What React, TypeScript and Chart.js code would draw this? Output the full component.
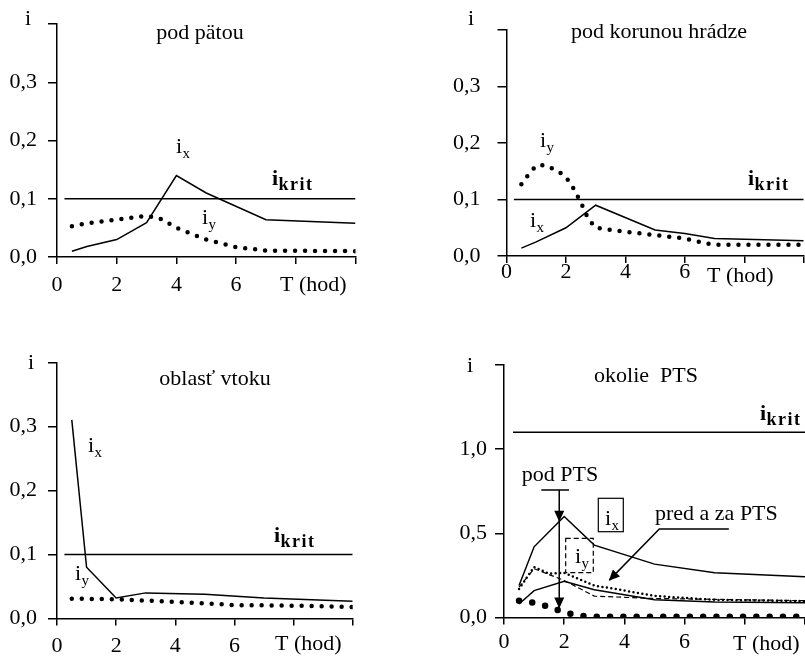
import React, { useEffect, useRef } from 'react';
import { Chart, registerables } from 'chart.js';
Chart.register(...registerables);

const FONT = '"Liberation Serif", "Times New Roman", serif';

// ---------- Panel 1: pod pätou ----------
const p1IxT = [0.5, 1, 2, 3, 4, 5, 7, 10];
const p1IxV = [0.01, 0.018, 0.03, 0.059, 0.14, 0.11, 0.064, 0.058];
const p1IyT = [0.5, 1, 2, 3, 3.5, 4, 5, 6, 7, 10];
const p1IyV = [0.053, 0.058, 0.064, 0.071, 0.065, 0.05, 0.03, 0.017, 0.011, 0.01];

// ---------- Panel 2: pod korunou hrádze ----------
const p2IxT = [0.5, 1, 2, 3, 5, 6, 7, 10];
const p2IxV = [0.014, 0.025, 0.05, 0.09, 0.046, 0.04, 0.031, 0.027];
const p2IyT = [0.5, 0.75, 1, 1.25, 1.5, 1.75, 2, 2.25, 2.5, 2.75, 3, 4, 5, 6, 6.75, 7, 10];
const p2IyV = [0.127, 0.145, 0.16, 0.161, 0.156, 0.15, 0.14, 0.12, 0.095, 0.066, 0.05, 0.043, 0.037, 0.031, 0.022, 0.02, 0.02];

// ---------- Panel 3: oblasť vtoku ----------
const p3IxT = [0.5, 1, 2, 3, 5, 7, 10];
const p3IxV = [0.31, 0.08, 0.032, 0.04, 0.038, 0.032, 0.027];
const p3IyT = [0.5, 2, 4, 6, 8, 10];
const p3IyV = [0.031, 0.03, 0.026, 0.021, 0.02, 0.018];

// ---------- Panel 4: okolie PTS ----------
const p4IxPodT = [0.5, 1, 2, 3, 5, 7, 10];
const p4IxPodV = [0.19, 0.42, 0.6, 0.43, 0.317, 0.266, 0.242];
const p4IxPredT = [0.5, 1, 2, 3, 5, 7, 10];
const p4IxPredV = [0.08, 0.16, 0.215, 0.165, 0.105, 0.092, 0.087];
const p4IyPredT = [0.5, 1, 1.5, 2, 3, 4, 5, 7, 10];
const p4IyPredV = [0.17, 0.3, 0.26, 0.265, 0.19, 0.16, 0.128, 0.105, 0.097];
const p4IyDashT = [0.5, 1, 2, 3, 5, 10];
const p4IyDashV = [0.18, 0.29, 0.22, 0.127, 0.113, 0.1];
const p4IyPodT = [0.5, 1, 1.5, 2, 2.5, 3, 10];
const p4IyPodV = [0.1, 0.088, 0.063, 0.03, 0.01, 0.005, 0.005];

// critical values
const critLow = 0.1;
const critPTS = 1.1;
const critStart = 0.25;
const critEnd = 10;

// axis ticks
const xShownTicks = [0, 2, 4, 6];

const pts = (t: number[], v: number[]) => t.map((x, i) => ({ x, y: v[i] }));

type Txt = { t: string; sub?: string; x: number; y: number; bold?: boolean; align?: 'left' | 'center' };

function drawText(ctx: CanvasRenderingContext2D, o: Txt) {
  const w = o.bold ? 'bold ' : '';
  ctx.save();
  ctx.fillStyle = '#000';
  ctx.textBaseline = 'alphabetic';
  ctx.font = `${w}22px ${FONT}`;
  if (o.align === 'center' && !o.sub) {
    ctx.textAlign = 'center';
    ctx.fillText(o.t, o.x, o.y);
  } else {
    ctx.textAlign = 'left';
    ctx.fillText(o.t, o.x, o.y);
    if (o.sub) {
      const mw = ctx.measureText(o.t).width;
      ctx.font = `${w}${o.bold ? 18 : 15}px ${FONT}`;
      if (o.bold) (ctx as any).letterSpacing = '1.5px';
      ctx.fillText(o.sub, o.x + mw + 0.5, o.y + 5);
    }
  }
  ctx.restore();
}

function arrowHead(ctx: CanvasRenderingContext2D, fx: number, fy: number, tx: number, ty: number) {
  const ang = Math.atan2(ty - fy, tx - fx);
  const len = 11, hw = 5;
  ctx.beginPath();
  ctx.moveTo(tx, ty);
  ctx.lineTo(tx - len * Math.cos(ang) + hw * Math.sin(ang), ty - len * Math.sin(ang) - hw * Math.cos(ang));
  ctx.lineTo(tx - len * Math.cos(ang) - hw * Math.sin(ang), ty - len * Math.sin(ang) + hw * Math.cos(ang));
  ctx.closePath();
  ctx.fill();
}

type PanelCfg = {
  left: number; top: number; w: number; h: number;
  yW: number; xH: number; padTop: number; padRight: number;
  yMax: number; yStep: number; yPad: number; xPad: number;
  datasets: any[];
  texts: Txt[];
  extra?: (chart: any) => void;
};

const solid = (data: any[]) => ({ data, showLine: true, borderColor: '#000', borderWidth: 1.5, pointRadius: 0, fill: false, tension: 0 });
const bigDots = (data: any[], width = 4.5, gap = 10) => ({
  data, showLine: true, borderColor: '#000', borderWidth: width, borderDash: [0, gap], borderCapStyle: 'round', pointRadius: 0, fill: false, tension: 0,
});
const dashed = (data: any[]) => ({ data, showLine: true, borderColor: '#000', borderWidth: 1.2, borderDash: [5, 3], pointRadius: 0, fill: false, tension: 0 });

const fmt = (v: number, max: number) => (Math.abs(v - max) < 1e-9 ? '' : v.toFixed(1).replace('.', ','));

function Panel({ cfg }: { cfg: PanelCfg }) {
  const ref = useRef<HTMLCanvasElement>(null);
  useEffect(() => {
    if (!ref.current) return;
    const textPlugin = {
      id: 'texts',
      afterDraw(chart: any) {
        const ctx = chart.ctx;
        cfg.texts.forEach((t) => drawText(ctx, t));
        if (cfg.extra) cfg.extra(chart);
      },
    };
    const chart = new Chart(ref.current, {
      type: 'scatter',
      data: { datasets: cfg.datasets },
      options: {
        responsive: false,
        animation: false,
        devicePixelRatio: 1,
        layout: { padding: { top: cfg.padTop, right: cfg.padRight, left: 0, bottom: 0 } },
        plugins: { legend: { display: false }, tooltip: { enabled: false }, title: { display: false } },
        scales: {
          x: {
            type: 'linear', min: 0, max: 10,
            afterFit: (s: any) => { s.height = cfg.xH; },
            ticks: {
              stepSize: 2, autoSkip: false, maxRotation: 0, padding: cfg.xPad, color: '#000',
              font: { family: FONT, size: 22 },
              callback: (v: any) => (xShownTicks.includes(Number(v)) ? String(v) : ''),
            },
            grid: { display: true, drawOnChartArea: false, drawTicks: true, tickLength: 7, color: '#000', lineWidth: 1.5 },
            border: { display: true, color: '#000', width: 1.5 },
          },
          y: {
            type: 'linear', min: 0, max: cfg.yMax,
            afterFit: (s: any) => { s.width = cfg.yW; },
            ticks: {
              stepSize: cfg.yStep, autoSkip: false, padding: cfg.yPad, color: '#000',
              font: { family: FONT, size: 22 },
              callback: (v: any) => fmt(Number(v), cfg.yMax),
            },
            grid: { display: true, drawOnChartArea: false, drawTicks: true, tickLength: 9, color: '#000', lineWidth: 1.5 },
            border: { display: true, color: '#000', width: 1.5 },
          },
        },
      },
      plugins: [textPlugin],
    } as any);
    return () => chart.destroy();
  }, []);
  return (
    <canvas
      ref={ref}
      width={cfg.w}
      height={cfg.h}
      style={{ position: 'absolute', left: cfg.left, top: cfg.top, width: cfg.w, height: cfg.h }}
    />
  );
}

const panels: PanelCfg[] = [
  {
    left: 0, top: 0, w: 400, h: 310, yW: 57, xH: 53, padTop: 17, padRight: 44.5,
    yMax: 0.4, yStep: 0.1, yPad: 11, xPad: 8,
    datasets: [
      solid(pts(p1IxT, p1IxV)),
      bigDots(pts(p1IyT, p1IyV)),
      solid([{ x: critStart, y: critLow }, { x: critEnd, y: critLow }]),
    ],
    texts: [
      { t: 'i', x: 25, y: 25 },
      { t: 'pod pätou', x: 200, y: 39, align: 'center' },
      { t: 'i', sub: 'x', x: 176, y: 153 },
      { t: 'i', sub: 'y', x: 202, y: 224 },
      { t: 'i', sub: 'krit', x: 272, y: 185, bold: true },
      { t: 'T (hod)', x: 280, y: 291 },
    ],
  },
  {
    left: 400, top: 0, w: 405, h: 310, yW: 106.5, xH: 54, padTop: 20, padRight: 1.3,
    yMax: 0.4, yStep: 0.1, yPad: 17, xPad: -4,
    datasets: [
      solid(pts(p2IxT, p2IxV)),
      bigDots(pts(p2IyT, p2IyV)),
      solid([{ x: critStart, y: critLow }, { x: critEnd, y: critLow }]),
    ],
    texts: [
      { t: 'i', x: 68, y: 25 },
      { t: 'pod korunou hrádze', x: 259, y: 38, align: 'center' },
      { t: 'i', sub: 'y', x: 140, y: 147 },
      { t: 'i', sub: 'x', x: 130, y: 227 },
      { t: 'i', sub: 'krit', x: 348, y: 185, bold: true },
      { t: 'T (hod)', x: 307, y: 282 },
    ],
  },
  {
    left: 0, top: 320, w: 400, h: 340, yW: 57, xH: 41.5, padTop: 42.3, padRight: 47.3,
    yMax: 0.4, yStep: 0.1, yPad: 11, xPad: 8,
    datasets: [
      solid(pts(p3IxT, p3IxV)),
      bigDots(pts(p3IyT, p3IyV)),
      solid([{ x: critStart, y: critLow }, { x: critEnd, y: critLow }]),
    ],
    texts: [
      { t: 'i', x: 28, y: 49 },
      { t: 'oblasť vtoku', x: 215, y: 65, align: 'center' },
      { t: 'i', sub: 'x', x: 88, y: 132 },
      { t: 'i', sub: 'y', x: 75, y: 260 },
      { t: 'i', sub: 'krit', x: 274, y: 222, bold: true },
      { t: 'T (hod)', x: 275, y: 330 },
    ],
  },
  {
    left: 400, top: 320, w: 410, h: 340, yW: 104, xH: 42.5, padTop: 45, padRight: 2,
    yMax: 1.5, yStep: 0.5, yPad: 8, xPad: 5,
    datasets: [
      solid(pts(p4IxPodT, p4IxPodV)),
      solid(pts(p4IxPredT, p4IxPredV)),
      bigDots(pts(p4IyPredT, p4IyPredV), 2.5, 4.5),
      dashed(pts(p4IyDashT, p4IyDashV)),
      bigDots(pts(p4IyPodT, p4IyPodV), 6.5, 13.3),
      solid([{ x: 0.3, y: critPTS }, { x: critEnd, y: critPTS }]),
    ],
    texts: [
      { t: 'i', x: 67, y: 52 },
      { t: 'okolie  PTS', x: 246, y: 62, align: 'center' },
      { t: 'i', sub: 'krit', x: 360, y: 100, bold: true },
      { t: 'T (hod)', x: 333, y: 330 },
      { t: 'pod PTS', x: 160, y: 161, align: 'center' },
      { t: 'pred a za PTS', x: 255, y: 200 },
      { t: 'i', sub: 'x', x: 205, y: 205 },
      { t: 'i', sub: 'y', x: 175, y: 243 },
    ],
    extra: (chart: any) => {
      const ctx = chart.ctx as CanvasRenderingContext2D;
      const xs = chart.scales.x, ys = chart.scales.y;
      const px = (v: number) => xs.getPixelForValue(v);
      const py = (v: number) => ys.getPixelForValue(v);
      ctx.save();
      ctx.strokeStyle = '#000';
      ctx.fillStyle = '#000';
      ctx.lineWidth = 1.5;
      // pod PTS bar and arrow
      ctx.beginPath();
      ctx.moveTo(px(1.24), py(0.758));
      ctx.lineTo(px(2.16), py(0.758));
      ctx.moveTo(px(1.835), py(0.758));
      ctx.lineTo(px(1.835), py(0.06));
      ctx.stroke();
      arrowHead(ctx, px(1.835), py(0.758), px(1.835), py(0.569));
      arrowHead(ctx, px(1.835), py(0.3), px(1.835), py(0.054));
      // pred a za PTS pointer
      ctx.beginPath();
      ctx.moveTo(px(7.47), py(0.526));
      ctx.lineTo(px(5.16), py(0.526));
      ctx.lineTo(px(3.5), py(0.222));
      ctx.stroke();
      arrowHead(ctx, px(5.16), py(0.526), px(3.48), py(0.218));
      // boxes
      ctx.lineWidth = 1.2;
      ctx.strokeRect(198.3, 178.3, 25, 33.4);
      ctx.setLineDash([5, 3]);
      ctx.strokeRect(165.7, 218.3, 27.6, 34.4);
      ctx.restore();
    },
  },
];

export default function App() {
  return (
    <div style={{ position: 'fixed', left: 0, top: 0, width: 805, height: 660, overflow: 'hidden', background: '#fff' }}>
      {panels.map((p, i) => (
        <Panel key={i} cfg={p} />
      ))}
    </div>
  );
}
